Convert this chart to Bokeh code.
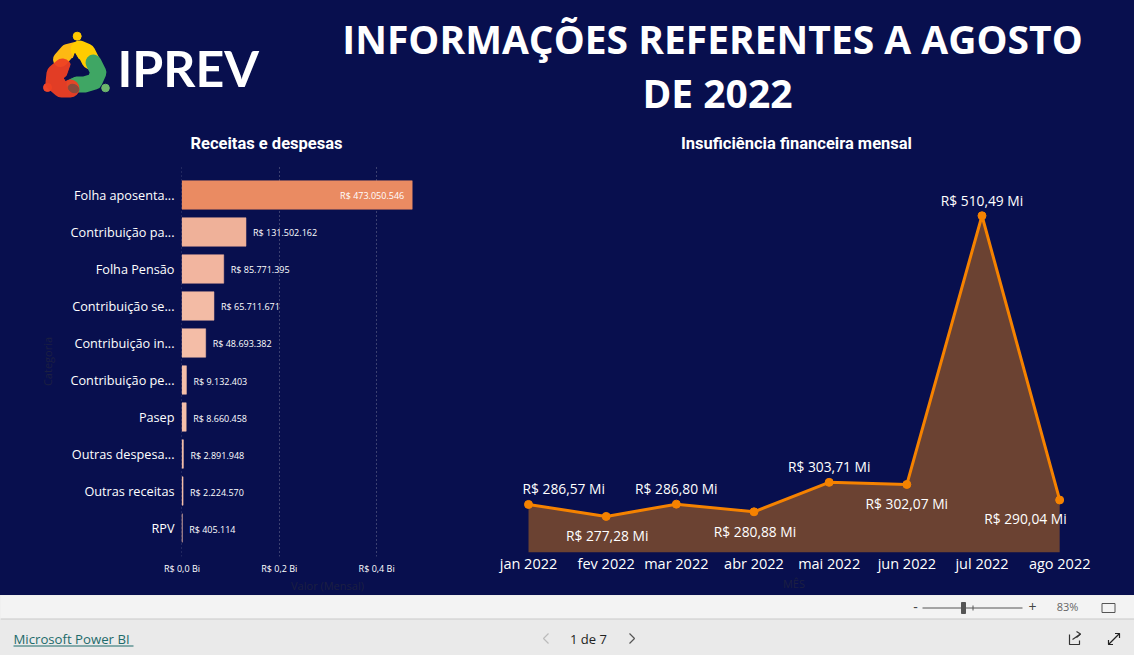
from datetime import date
from bokeh.plotting import figure
from bokeh.layouts import column, row
from bokeh.models import Range1d, FactorRange, FixedTicker, ColumnDataSource
from bokeh.core.properties import value
from bokeh.embed import file_html
from bokeh.resources import INLINE

NAVY = "#080F4E"
BODY = "Open Sans"

categorias = ["Folha aposenta...", "Contribuição pa...", "Folha Pensão", "Contribuição se...",
              "Contribuição in...", "Contribuição pe...", "Pasep", "Outras despesa...",
              "Outras receitas", "RPV"]
valores = [473050546, 131502162, 85771395, 65711671, 48693382, 9132403, 8660458, 2891948, 2224570, 405114]
rotulos = ["R$ 473.050.546", "R$ 131.502.162", "R$ 85.771.395", "R$ 65.711.671", "R$ 48.693.382",
           "R$ 9.132.403", "R$ 8.660.458", "R$ 2.891.948", "R$ 2.224.570", "R$ 405.114"]
cores = ["#EA8B62", "#EFB199", "#F2B59F", "#F3BBA5", "#F4BDA7", "#F5BFAA", "#F5BFAA", "#F5BFAA", "#F5BFAA", "#F5BFAA"]
ticks_x = [0, 200000000, 400000000]
ticks_x_rotulos = ["R$ 0,0 Bi", "R$ 0,2 Bi", "R$ 0,4 Bi"]

meses = ["jan 2022", "fev 2022", "mar 2022", "abr 2022", "mai 2022", "jun 2022", "jul 2022", "ago 2022"]
numero_mes = [1, 2, 3, 4, 5, 6, 7, 8]
insuficiencia = [286.57, 277.28, 286.80, 280.88, 303.71, 302.07, 510.49, 290.04]
rotulos_mes = ["R$ 286,57 Mi", "R$ 277,28 Mi", "R$ 286,80 Mi", "R$ 280,88 Mi",
               "R$ 303,71 Mi", "R$ 302,07 Mi", "R$ 510,49 Mi", "R$ 290,04 Mi"]
dias = [(date(2022, m, 1) - date(2022, 1, 1)).days for m in numero_mes]


def flat(f, bg):
    f.background_fill_alpha = 0
    f.border_fill_alpha = 0
    f.styles = {"background-color": bg}
    f.outline_line_color = None


def blank(w, h, bg):
    f = figure(width=w, height=h, x_range=Range1d(0, w), y_range=Range1d(h, 0), toolbar_location=None,
               output_backend="svg", min_border=0)
    flat(f, bg)
    f.axis.visible = False
    f.grid.visible = False
    return f


# ---------- header ----------
head = blank(1134, 156, NAVY)
head.circle(x=[76.7, 47, 105], y=[35.7, 87, 87.5], radius=[4, 4, 3.8], color=["#FFC800", "#F0452B", "#6CB56C"])
head.multi_line(xs=[[60, 67, 75], [79, 86, 90]], ys=[[59, 51, 49], [49, 52, 60]], line_width=[15, 18],
                line_color=["#FDB913", "#FFCC00"], line_cap="round", line_join="round")
head.multi_line(xs=[[93, 98, 94, 84, 74]], ys=[[62, 72, 81, 84, 84]], line_width=[16],
                line_color=["#3FA664"], line_cap="round", line_join="round")
head.multi_line(xs=[[62, 55, 54, 61, 70]], ys=[[67, 73, 82, 88, 88]], line_width=[18],
                line_color=["#EE4023"], line_cap="round", line_join="round", line_alpha=0.95)
head.patch(x=[74.5, 65, 85], y=[53, 80, 71], color=NAVY)
head.ellipse(x=[73], y=[88], width=[11], height=[8], angle=[-0.4], color="#8A4A3C")
head.text(x=[117], y=[67], text=["IPREV"], text_font=value("Lato"), text_font_style="bold", text_font_size="50px",
          text_color="white", text_baseline="middle", text_align="left")
head.text(x=[712], y=[38], text=["INFORMAÇÕES REFERENTES A AGOSTO"], text_font=value(BODY),
          text_font_style="bold", text_font_size="39px", text_color="white", text_align="center", text_baseline="middle")
head.text(x=[717], y=[92], text=["DE 2022"], text_font=value(BODY),
          text_font_style="bold", text_font_size="39px", text_color="white", text_align="center", text_baseline="middle")
head.text(x=[266, 796], y=[143, 143], text=["Receitas e despesas", "Insuficiência financeira mensal"],
          text_font=value("Roboto"), text_font_style="bold", text_font_size="16.5px", text_color="white",
          text_align="center", text_baseline="middle")

# ---------- bars ----------
fr = FactorRange(factors=categorias[::-1], factor_padding=0, range_padding=0.27, range_padding_units="absolute")
bars = figure(width=473, height=450, x_range=Range1d(-1000000, 599000000), y_range=fr, toolbar_location=None,
              output_backend="svg", min_border_left=181, min_border_right=0, min_border_top=10, min_border_bottom=37)
flat(bars, NAVY)
src = ColumnDataSource(dict(cat=categorias, val=valores, cor=cores, rot=rotulos))
bars.hbar(y="cat", right="val", left=0, height=0.77, fill_color="cor", line_color="cor", line_width=0.7,
          line_alpha=0.75, source=src)
bars.text(x=valores[:1], y=categorias[:1], text=rotulos[:1], text_color="white", text_font=value(BODY),
          text_font_size="9px", text_align="right", text_baseline="middle", x_offset=-8, y_offset=1)
bars.text(x=valores[1:], y=categorias[1:], text=rotulos[1:], text_color="white", text_font=value(BODY),
          text_font_size="9px", text_align="left", text_baseline="middle", x_offset=7, y_offset=1)
bars.xaxis.ticker = FixedTicker(ticks=ticks_x)
bars.xaxis.major_label_overrides = dict(zip(ticks_x, ticks_x_rotulos))
for ax in (bars.xaxis[0], bars.yaxis[0]):
    ax.axis_line_color = None
    ax.major_tick_line_color = None
    ax.minor_tick_line_color = None
    ax.major_tick_out = 0
    ax.minor_tick_out = 0
    ax.major_label_text_color = "white"
    ax.major_label_text_font = BODY
    ax.axis_label_text_color = "#1C1F42"
    ax.axis_label_text_font = BODY
    ax.axis_label_text_font_style = "normal"
bars.xaxis.major_label_text_font_size = "9px"
bars.yaxis.major_label_text_font_size = "12.7px"
bars.xaxis.major_label_standoff = 5
bars.yaxis.major_label_standoff = 7
bars.xaxis.axis_label = "Valor (Mensal)"
bars.yaxis.axis_label = "Categoria"
bars.xaxis.axis_label_text_font_size = "11px"
bars.yaxis.axis_label_text_font_size = "11px"
bars.xaxis.axis_label_standoff = 0
bars.yaxis.axis_label_standoff = 12
bars.ygrid.visible = False
bars.xgrid.grid_line_color = "#6E7292"
bars.xgrid.grid_line_dash = "1 3"
bars.xgrid.grid_line_width = 1

# ---------- area/line ----------
base = 249.3
line = figure(width=661, height=446, x_range=Range1d(-15.17, 227.1),
              y_range=Range1d(base, 548.7), toolbar_location=None, output_backend="svg",
              min_border_left=17, min_border_right=37, min_border_top=4, min_border_bottom=50)
flat(line, NAVY)
line.varea(x=dias, y1=[base] * len(dias), y2=insuficiencia, fill_color="#6B4232")
line.line(x=dias, y=insuficiencia, line_color="#F58200", line_width=3)
line.scatter(x=dias, y=insuficiencia, size=8, color="#F58200")
desloc_y = [16, -19, 16, -20, 16, -19, 15, -19]
aligns = ["left", "center", "center", "center", "center", "center", "center", "right"]
desloc_x = [-6, 1, 0, 1, 0, 0, 0, 7]
for d, v, t, dy, al, dx in zip(dias, insuficiencia, rotulos_mes, desloc_y, aligns, desloc_x):
    line.text(x=[d], y=[v], text=[t], text_color="white", text_font=value(BODY), text_font_size="13.8px",
              text_align=al, text_baseline="middle", x_offset=dx, y_offset=-dy)
ax = line.xaxis[0]
ax.ticker = FixedTicker(ticks=dias)
ax.major_label_overrides = dict(zip(dias, meses))
ax.axis_line_color = None
ax.major_tick_line_color = None
ax.minor_tick_line_color = None
ax.major_tick_out = 0
ax.minor_tick_out = 0
ax.major_label_text_color = "white"
ax.major_label_text_font = BODY
ax.major_label_text_font_size = "14.5px"
ax.major_label_standoff = 1
ax.axis_label = "MÊS"
ax.axis_label_text_color = "#1C1F42"
ax.axis_label_text_font = BODY
ax.axis_label_text_font_size = "11px"
ax.axis_label_text_font_style = "normal"
ax.axis_label_standoff = 0
line.yaxis.visible = False
line.grid.visible = False

# ---------- footer ----------
foot = blank(1134, 60, "#EAEAEA")
foot.margin = (-11, 0, 0, 0)
foot.quad(left=[0], right=[1134], top=[0], bottom=[23], color="#F3F3F3")
foot.segment(x0=[0], x1=[1134], y0=[23.5], y1=[23.5], line_color="#C8C8C8", line_width=1)
foot.text(x=[13], y=[43], text=["Microsoft Power BI"], text_font=value(BODY), text_font_size="13.2px",
          text_color="#1D6B6B", text_baseline="middle")
foot.segment(x0=[13], x1=[133], y0=[50.5], y1=[50.5], line_color="#1D6B6B", line_width=1)
foot.text(x=[588], y=[43], text=["1 de 7"], text_font=value(BODY), text_font_size="13px",
          text_color="#222222", text_align="center", text_baseline="middle")
foot.multi_line(xs=[[548, 543, 548], [629, 634, 629]], ys=[[38, 43, 48], [38, 43, 48]],
                line_color=["#BBBBBB", "#555555"], line_width=1.2)
foot.text(x=[915], y=[11], text=["-"], text_font=value(BODY), text_font_size="14px", text_color="#444444",
          text_align="center", text_baseline="middle")
foot.segment(x0=[922], x1=[1022], y0=[12.5], y1=[12.5], line_color="#555555", line_width=1)
foot.quad(left=[961], right=[965], top=[7], bottom=[18], color="#555555")
foot.segment(x0=[972.5], x1=[972.5], y0=[10], y1=[15], line_color="#555555", line_width=1)
foot.text(x=[1032], y=[11], text=["+"], text_font=value(BODY), text_font_size="14px", text_color="#444444",
          text_align="center", text_baseline="middle")
foot.text(x=[1067], y=[11], text=["83%"], text_font=value(BODY), text_font_size="11px", text_color="#666666",
          text_align="center", text_baseline="middle")
foot.quad(left=[1101.5], right=[1114.5], top=[8], bottom=[17], fill_color=None, line_color="#555555", line_width=1)
foot.multi_line(xs=[[1069, 1069, 1079, 1079], [1072, 1080], [1076, 1080, 1076]],
                ys=[[39, 49, 49, 45], [44, 38.5], [36, 38.5, 42]], line_color="#333333", line_width=1.2)
foot.multi_line(xs=[[1108, 1119], [1108, 1108, 1112.5], [1114.5, 1119, 1119]],
                ys=[[49, 38], [44.5, 49, 49], [38, 38, 42.5]], line_color="#222222", line_width=1.2)

body = row(bars, line, spacing=0)
page = column(head, body, foot, spacing=0)
open("out.html", "w").write(file_html(page, INLINE))
